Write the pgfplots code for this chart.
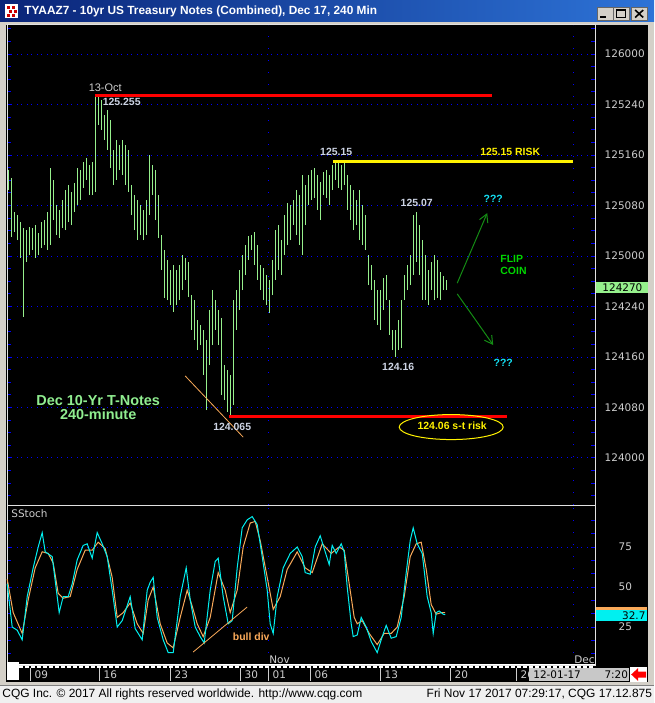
\documentclass[border=0pt]{standalone}
\usepackage{pgfplots}
\pgfplotsset{compat=1.18}
\usepackage{pgfplotstable}
\usepackage{fontspec}
\setmainfont{Liberation Sans}
\newfontfamily\dejavu{DejaVu Sans}
\usetikzlibrary{arrows.meta}

\definecolor{bargreen}{RGB}{150,240,140}
\definecolor{stochcyan}{RGB}{0,240,240}
\definecolor{stochorange}{RGB}{250,170,90}
\definecolor{gridblue}{RGB}{0,0,255}
\definecolor{lblgray}{RGB}{205,205,205}
\definecolor{notegray}{RGB}{205,212,228}
\definecolor{framegray}{RGB}{212,208,200}
\definecolor{edgegray}{RGB}{225,225,225}
\definecolor{titleL}{RGB}{10,36,120}
\definecolor{titleR}{RGB}{45,115,215}
\definecolor{ltgreen}{RGB}{144,238,144}
\definecolor{flipgreen}{RGB}{0,215,0}
\definecolor{arrowgreen}{RGB}{20,140,20}
\definecolor{qcyan}{RGB}{20,225,245}
\definecolor{statusbg}{RGB}{240,240,240}
\definecolor{datebox}{RGB}{200,200,200}

\newcommand\fs[1]{\fontsize{#1}{#1}\selectfont}

% price in 32nds above 124-00: h = high, l = low
\pgfplotstableread{
x h l
8 45.6 42.5
11 44.4 35.0
14 39.0 35.8
17 38.5 34.5
20 37.4 31.7
23 36.5 22.4
26 36.1 31.1
29 36.6 32.2
32 36.5 33.0
35 36.9 31.7
38 35.7 32.2
41 37.4 33.3
44 37.7 33.8
47 39.0 33.0
50 46.0 33.8
53 44.1 37.7
56 40.1 35.4
59 39.3 34.9
62 40.9 36.5
65 42.5 36.1
68 43.3 37.4
71 42.2 36.9
74 43.6 39.0
77 46.0 40.1
80 45.6 40.9
83 46.9 42.8
86 47.5 44.1
89 46.4 41.7
92 46.9 41.7
95 57.5 42.2
98 57.5 52.8
101 56.7 52.0
104 54.4 50.4
107 55.2 48.8
110 53.6 46.0
113 48.8 43.3
116 50.4 44.1
119 49.6 45.6
122 50.4 44.9
125 49.6 43.3
128 48.8 42.2
131 43.3 38.5
134 41.7 36.1
137 40.9 34.5
140 40.1 35.4
143 39.3 34.5
146 40.9 35.4
149 48.0 38.5
152 46.4 41.7
155 45.6 37.7
158 41.7 34.9
161 35.4 29.8
164 33.0 25.4
167 31.4 25.0
170 29.8 24.3
173 30.6 23.2
176 29.8 24.3
179 30.6 25.0
182 32.2 26.6
185 31.7 28.2
188 31.1 25.5
191 25.8 20.3
194 25.0 18.7
197 21.9 17.1
200 21.1 17.9
203 20.3 13.2
206 18.7 7.6
209 23.5 14.7
212 26.6 17.9
215 25.0 20.3
218 23.5 17.9
221 22.2 10.0
224 14.7 9.2
227 13.9 7.3
230 13.2 6.5
233 25.0 8.4
236 26.6 20.3
239 29.8 23.5
242 32.2 26.6
245 33.8 29.0
248 35.2 31.4
251 35.4 33.0
254 35.8 30.6
257 33.8 28.2
260 30.6 26.6
263 30.1 25.0
266 29.0 24.3
269 28.2 23.0
272 31.4 25.8
275 36.1 28.2
278 36.9 29.8
281 34.5 29.0
284 38.5 32.2
287 40.4 33.8
290 40.1 34.5
293 40.9 36.9
296 42.5 35.4
299 41.7 33.8
302 44.9 32.2
305 43.3 36.9
308 44.9 40.1
311 45.6 40.9
314 46.0 41.2
317 44.9 39.3
320 43.8 37.7
323 45.3 41.7
326 45.6 41.2
329 44.9 40.1
332 46.4 42.5
335 47.0 44.1
338 46.9 42.8
341 46.4 42.5
344 46.9 43.3
347 44.9 39.3
350 43.3 37.7
353 42.5 36.1
356 40.9 36.9
359 42.5 34.5
362 40.1 33.8
365 38.5 33.0
368 32.2 27.4
371 30.6 26.6
374 28.2 21.9
377 26.6 21.1
380 26.6 20.3
383 28.5 23.5
386 29.0 25.0
389 25.0 19.5
392 20.3 17.1
395 20.3 16.0
398 21.9 17.1
401 25.0 17.4
404 29.0 25.0
407 30.6 26.6
410 32.2 27.4
413 38.5 29.0
416 39.0 31.1
419 36.9 29.0
422 34.5 25.0
425 32.2 25.0
428 29.8 24.3
431 31.1 26.6
434 32.2 25.0
437 31.4 25.4
440 29.5 25.0
443 28.9 26.6
446 28.2 26.6
}\bars

\pgfplotstableread{
x k
7 52
12 25
17 23
22 17
27 44
33 62
38 75
42 84
45 72
52 69
55 54
59 34
63 44
68 44
72 52
77 67
83 76
87 77
92 68
97 84
102 77
107 69
112 48
117 25
122 29
130 44
135 24
142 17
147 48
150 53
153 56
157 31
163 17
168 9
173 9
180 44
186 62
190 42
195 25
200 19
204 15
210 48
215 66
218 68
223 44
228 27
232 29
237 62
242 87
247 92
252 94
257 89
262 69
267 48
270 27
273 21
277 44
283 62
290 71
297 75
302 69
305 59
310 58
315 75
320 82
325 72
329 64
332 76
336 71
341 77
344 72
347 50
351 27
353 19
357 20
361 31
366 25
371 16
377 9
382 19
386 26
391 18
396 19
401 31
406 59
410 79
413 87
417 77
422 71
427 44
431 34
433 21
436 34
439 35
443 33
445 32.7
}\fastk

\pgfplotstableread{
x d
7 55
13 34
22 21
28 42
35 62
42 72
48 71
53 65
58 46
63 43
70 44
77 61
85 73
92 73
98 78
105 74
112 56
117 31
123 34
130 40
137 27
143 21
148 42
153 50
160 27
167 15
173 12
180 31
187 48
192 38
197 27
203 19
210 31
218 59
225 48
230 34
237 48
243 75
250 90
255 91
260 79
267 56
273 36
280 44
287 61
297 72
305 62
312 59
322 77
331 71
339 75
344 73
349 52
354 31
357 27
362 29
369 21
377 14
384 21
391 21
397 25
404 44
410 69
416 77
421 78
426 61
431 39
436 33
441 34
445 34
}\slowd

\begin{document}
\begin{tikzpicture}
% window frame, title bar and chart background (pixel coordinates)
\begin{scope}[x=1bp,y=-1bp]
  \fill[framegray] (0,0) rectangle (654,703);
  \shade[left color=titleL, right color=titleR] (0,0) rectangle (654,22);
  \fill[white] (5,4) rectangle (18,18);
  \foreach \a/\b in {7/6,12/6,9/10,14/10,7/14,12/14}
    \fill[red!80!black] (\a,\b) rectangle ++(3,3);
  \node[anchor=west, text=white, font=\bfseries\fs{11.9}, inner sep=0pt] at (24,11.5)
    {TYAAZ7 - 10yr US Treasury Notes (Combined), Dec 17, 240 Min};
  \foreach \bx in {597,613,631}
    \filldraw[fill=framegray, draw=black!60] (\bx,7) rectangle ++(16,13);
  \draw[black, line width=2bp] (600,17) -- (606,17);
  \draw[black, line width=1bp] (616.5,10) rectangle (625.5,17.5);
  \draw[black, line width=2bp] (616.5,10.5) -- (625.5,10.5);
  \draw[black, line width=1.6bp] (635,10) -- (643,17.5) (643,10) -- (635,17.5);
  \fill[black] (6,25) rectangle (648,682);
  \fill[statusbg] (0,685) rectangle (654,703);
  \draw[black!50] (0,685) -- (654,685);
\end{scope}

% price panel
\begin{axis}[
    at={(7bp,-505bp)}, anchor=south west,
    scale only axis, width=588bp, height=480bp,
    xmin=7, xmax=595, ymin=-7.45, ymax=68.6,
    clip=false,
    axis line style={draw=edgegray, line width=1bp},
    xtick=\empty,
    extra x ticks={268,573}, extra x tick labels={},
    extra x tick style={grid=major, tick style={draw=none},
      major grid style={draw=gridblue, line width=1bp, dash pattern=on 1bp off 11bp}},
    ytick={0,8,...,64},
    yticklabels={124000,124080,124160,124240,125000,125080,125160,125240,126000},
    minor ytick={-6,-4,...,68},
    ytick pos=both, yticklabel pos=right,
    tick align=inside,
    major tick length=4bp, minor tick length=4bp,
    tick style={draw=gridblue, line width=1bp},
    ymajorgrids,
    major grid style={draw=gridblue, line width=1bp, dash pattern=on 1bp off 3bp on 1bp off 5bp},
    yticklabel style={font=\dejavu\fs{10.5}, text=lblgray, anchor=west, xshift=6bp},
  ]
  \addplot[draw=none, forget plot,
    error bars/.cd, y dir=plus, y explicit, error mark=none,
    error bar style={draw=bargreen, line width=1.3bp, solid}]
    table[x=x, y=l, y error plus expr=\thisrow{h}-\thisrow{l}] {\bars};
  % risk levels
  \addplot[red, line width=3bp, forget plot] coordinates {(95,57.5) (492,57.5)};
  \addplot[yellow, line width=3bp, forget plot] coordinates {(333,47) (573,47)};
  \addplot[red, line width=3bp, forget plot] coordinates {(229,6.5) (507,6.5)};
  \addplot[stochorange, line width=0.8bp, forget plot] coordinates {(185,13.0) (243,3.3)};
  \addplot[arrowgreen, line width=1bp, forget plot, -{Straight Barb[length=8bp,width=9bp]}]
    coordinates {(457,27.7) (487,38.8)};
  \addplot[arrowgreen, line width=1bp, forget plot, -{Straight Barb[length=8bp,width=9bp]}]
    coordinates {(457,26.0) (493,17.9)};
  \draw[yellow, line width=1bp] (axis cs:451,4.9) ellipse [x radius=52bp, y radius=12.5bp];
  % labels
  \node[text=lblgray, font=\fs{11}] at (axis cs:105,58.6) {13-Oct};
  \node[text=notegray, font=\bfseries\fs{10.5}] at (axis cs:121.5,56.4) {125.255};
  \node[text=notegray, font=\bfseries\fs{10.5}] at (axis cs:336,48.5) {125.15};
  \node[text=yellow, font=\bfseries\fs{10.5}] at (axis cs:510,48.5) {125.15 RISK};
  \node[text=notegray, font=\bfseries\fs{10.5}] at (axis cs:416.5,40.4) {125.07};
  \node[text=qcyan, font=\bfseries\fs{10.5}] at (axis cs:493,41.0) {???};
  \node[text=flipgreen, font=\bfseries\fs{10.5}, anchor=west, align=left, inner sep=0pt]
    at (axis cs:500,30.6) {FLIP\\[2bp]COIN};
  \node[text=qcyan, font=\bfseries\fs{10.5}] at (axis cs:503,15.1) {???};
  \node[text=notegray, font=\bfseries\fs{10.5}] at (axis cs:398,14.4) {124.16};
  \node[text=notegray, font=\bfseries\fs{10.5}] at (axis cs:232,4.9) {124.065};
  \node[text=yellow, font=\bfseries\fs{10.5}] at (axis cs:452,5.1) {124.06 s-t risk};
  \node[text=ltgreen, font=\bfseries\fs{14.5}, align=center] at (axis cs:98,8.0)
    {Dec 10-Yr T-Notes\\[-1bp]240-minute};
  \node[fill=bargreen, anchor=west, minimum width=52bp, minimum height=11.5bp, inner sep=0pt,
    font=\dejavu\fs{10.5}, text=black] at (axis cs:596,27) {124270};
\end{axis}

% stochastic panel
\begin{axis}[
    at={(7bp,-665bp)}, anchor=south west,
    scale only axis, width=588bp, height=160bp,
    xmin=7, xmax=595, ymin=1.25, ymax=101.25,
    clip=false,
    axis line style={draw=edgegray, line width=1bp},
    xtick={30,99,170,240,268,310,380,450,516},
    xticklabels={09,16,23,30,01,06,13,20,26},
    xtick style={draw=none},
    xticklabel style={font=\dejavu\fs{10.5}, text=lblgray, anchor=north west, xshift=1bp, yshift=-2bp},
    extra x ticks={268,573}, extra x tick labels={},
    extra x tick style={grid=major, tick style={draw=none},
      major grid style={draw=gridblue, line width=1bp, dash pattern=on 1bp off 11bp}},
    ytick={25,50,75},
    yticklabels={25,50,75},
    minor ytick={8.33,16.67,33.33,41.67,58.33,66.67,83.33,91.67},
    ytick pos=both, yticklabel pos=right,
    tick align=inside,
    major tick length=4bp, minor tick length=4bp,
    ytick style={draw=gridblue, line width=1bp},
    ymajorgrids,
    major grid style={draw=gridblue, line width=1bp, dash pattern=on 1bp off 3bp on 1bp off 5bp},
    yticklabel style={font=\dejavu\fs{10.5}, text=lblgray, anchor=west, xshift=20bp},
  ]
  \addplot[stochorange, line width=1bp, forget plot] table[x=x, y=d] {\slowd};
  \addplot[stochcyan, line width=1bp, forget plot] table[x=x, y=k] {\fastk};
  \addplot[stochorange, line width=0.8bp, forget plot] coordinates {(193,9.4) (247,37.5)};
  \node[text=stochorange, font=\bfseries\fs{10.5}] at (axis cs:251,18.75) {bull div};
  \node[text=lblgray, font=\dejavu\fs{10.5}, anchor=west, inner sep=0pt] at (axis cs:11,95.6) {SStoch};
  \node[text=lblgray, font=\dejavu\fs{10.5}, anchor=south west, inner sep=1bp] at (axis cs:268,1.25) {Nov};
  \node[text=lblgray, font=\dejavu\fs{10.5}, anchor=south west, inner sep=1bp] at (axis cs:573,1.25) {Dec};
  \fill[stochorange] (axis cs:596,37.6) rectangle (axis cs:647,35.0);
  \node[fill=stochcyan, anchor=west, minimum width=51bp, minimum height=11bp, inner sep=0pt,
    font=\dejavu\fs{10.5}, text=black, align=right, text width=47bp] at (axis cs:596,32.2) {32.7};
\end{axis}

% time strip, date box, status bar (pixel coordinates)
\begin{scope}[x=1bp,y=-1bp]
  \fill[white] (7,662) rectangle (19,680);
  \draw[white, line width=1bp] (19,664) -- (595,664);
  \draw[white, line width=2bp, dash pattern=on 4bp off 2bp] (19,666.5) -- (595,666.5);
  \foreach \t in {30,99,170,240,268,310,380,450,516}
    \draw[lblgray, line width=0.8bp] (\t,668) -- (\t,681);
  \fill[datebox] (529,668) rectangle (629,681);
  \node[anchor=west, font=\dejavu\fs{10.5}, text=black, inner sep=0pt] at (533,674.5) {12-01-17};
  \node[anchor=east, font=\dejavu\fs{10.5}, text=black, inner sep=0pt] at (628,674.5) {7:20};
  \fill[white] (630,667) rectangle (647,682);
  \fill[red] (631,674.5) -- (638,668) -- (638,671.5) -- (646,671.5) -- (646,677.5)
    -- (638,677.5) -- (638,681) -- cycle;
  \node[anchor=west, font=\fs{12}, text=black, inner sep=0pt] at (2,694.5)
    {CQG Inc. \textcopyright{} 2017 All rights reserved worldwide. http://www.cqg.com};
  \node[anchor=east, font=\fs{12}, text=black, inner sep=0pt] at (652,694.5)
    {Fri Nov 17 2017 07:29:17, CQG 17.12.875};
\end{scope}
\end{tikzpicture}
\end{document}
